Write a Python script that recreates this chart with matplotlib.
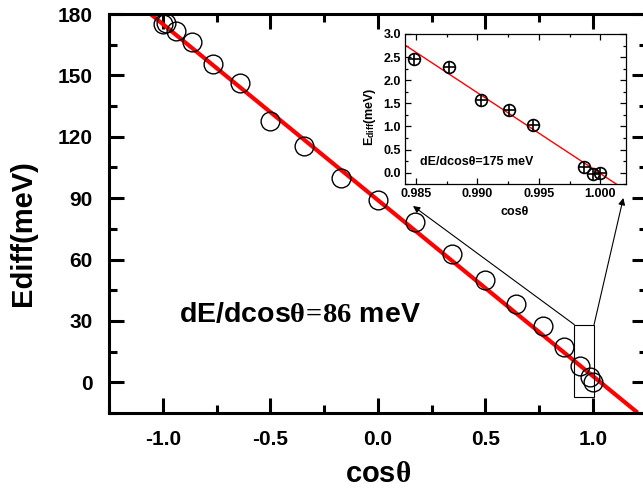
import numpy as np
import matplotlib
matplotlib.use("Agg")
import matplotlib.pyplot as plt
from matplotlib.patches import Rectangle
from matplotlib.ticker import MultipleLocator, FormatStrFormatter

plt.rcParams['font.family'] = ['Liberation Sans', 'DejaVu Sans']
plt.rcParams['font.weight'] = 'bold'
plt.rcParams['axes.unicode_minus'] = False
plt.rcParams['mathtext.fontset'] = 'custom'
plt.rcParams['mathtext.rm'] = 'Liberation Serif'
plt.rcParams['mathtext.bf'] = 'Liberation Sans:bold'
plt.rcParams['mathtext.it'] = 'Liberation Serif:italic'

# energy difference vs cos(theta), theta = 0..180 deg in 10 deg steps
cos_theta = [-1.0, -0.985, -0.94, -0.866, -0.766, -0.643, -0.5, -0.342, -0.174, 0.0,
             0.174, 0.342, 0.5, 0.643, 0.766, 0.866, 0.94, 0.985, 1.0]
e_diff = [175.0, 175.5, 171.5, 166.5, 155.5, 146.5, 127.5, 115.5, 100.0, 89.0,
          78.3, 62.6, 50.0, 38.5, 27.4, 17.2, 8.0, 2.4, 0.0]

# linear fit of the full range
fit_slope = 86.0
fit_offset = 89.0
fit_range = [-1.1, 1.2]

# small angles (0..10 deg)
cos_small = [0.98481, 0.98769, 0.99027, 0.99255, 0.99452, 0.99863, 0.99939, 1.0]
e_small = [2.47, 2.28, 1.57, 1.35, 1.04, 0.12, -0.03, 0.0]

fit_slope_small = 175.0
fit_offset_small = -0.02
fit_range_small = [0.984, 1.0013]

# zoom box drawn on the main axes (x0, x1, y0, y1)
zoom_box = (0.913, 1.005, -7.0, 28.2)


def draw_main(fig):
    ax = fig.add_axes([0.1699, 0.1623, 0.8359, 0.8093])
    ax.set_xlim(-1.25, 1.25)
    ax.set_ylim(-15, 180)

    xf = np.array(fit_range)
    ax.plot(xf, fit_offset - fit_slope * xf, color='red', lw=3, zorder=2)
    ax.plot(cos_theta, e_diff, 'o', ms=13.5, mfc='none', mec='black', mew=1.0, zorder=3)

    ax.xaxis.set_major_locator(MultipleLocator(0.5))
    ax.xaxis.set_minor_locator(MultipleLocator(0.25))
    ax.yaxis.set_major_locator(MultipleLocator(30))
    ax.yaxis.set_minor_locator(MultipleLocator(15))
    ax.xaxis.set_major_formatter(FormatStrFormatter('%.1f'))
    ax.set_yticks([0, 30, 60, 90, 120, 150, 180])
    ax.tick_params(which='both', direction='in', top=True, right=True, width=2.2,
                   labelsize=15, pad=12)
    ax.tick_params(which='major', length=11)
    ax.tick_params(which='minor', length=6)
    for lab in ax.get_xticklabels() + ax.get_yticklabels():
        lab.set_fontweight('bold')
    for sp in ax.spines.values():
        sp.set_linewidth(2.2)

    ax.text(-0.365, 33, r'dE/dcos$\mathrm{\theta\!=\!86}$ meV', fontsize=20.5,
            fontweight='bold', ha='center', va='center')

    x0, x1, y0, y1 = zoom_box
    ax.add_patch(Rectangle((x0, y0), x1 - x0, y1 - y0, fill=False, lw=0.8,
                           ec='black', zorder=4))
    arrow = dict(arrowstyle='-|>', lw=0.8, color='black', mutation_scale=10,
                 shrinkA=0, shrinkB=0)
    ax.annotate('', xy=(0.6423, 0.5822), xycoords='figure fraction',
                xytext=(x0, y1), textcoords='data', arrowprops=arrow)
    ax.annotate('', xy=(0.9694, 0.5984), xycoords='figure fraction',
                xytext=(x1, y1), textcoords='data', arrowprops=arrow)

    fig.text(23 / 643, 1 - 233 / 493, 'Ediff(meV)', fontsize=21, fontweight='bold',
             rotation=90, ha='center', va='center')
    fig.text(378 / 643, 1 - 474 / 493, r'cos$\mathrm{\theta}$', fontsize=21,
             fontweight='bold', ha='center', va='center')
    return ax


def draw_inset(fig):
    ax = fig.add_axes([405 / 643, 1 - 184.3 / 493, 220.7 / 643, 150.3 / 493])
    ax.set_xlim(0.98411, 1.00205)
    ax.set_ylim(-0.25, 3.0)

    xf = np.array(fit_range_small)
    ax.plot(xf, fit_offset_small + fit_slope_small * (1.0 - xf), color='red', lw=1.0)
    ax.plot(cos_small, e_small, 'o', ms=8.5, mfc='none', mec='black', mew=1.2)
    ax.plot(cos_small, e_small, '+', ms=8.5, color='black', mew=1.2)

    ax.xaxis.set_major_locator(MultipleLocator(0.005))
    ax.xaxis.set_minor_locator(MultipleLocator(0.0025))
    ax.yaxis.set_major_locator(MultipleLocator(0.5))
    ax.yaxis.set_minor_locator(MultipleLocator(0.25))
    ax.tick_params(which='both', direction='in', top=True, right=True, width=0.9,
                   labelsize=9, pad=3)
    ax.tick_params(which='major', length=4)
    ax.tick_params(which='minor', length=2.5)
    ax.xaxis.set_major_formatter(FormatStrFormatter('%.3f'))
    ax.yaxis.set_major_formatter(FormatStrFormatter('%.1f'))
    for lab in ax.get_xticklabels() + ax.get_yticklabels():
        lab.set_fontweight('bold')
    for sp in ax.spines.values():
        sp.set_linewidth(0.9)

    ax.text(0.98535, 0.24, 'dE/dcosθ=175 meV', fontsize=9, fontweight='bold',
            ha='left', va='center')
    fig.text(370 / 643, 1 - 117 / 493, r'E$_{\mathbf{diff}}$(meV)', fontsize=9,
             fontweight='bold', rotation=90, ha='center', va='center')
    fig.text(515 / 643, 1 - 212 / 493, 'cosθ', fontsize=9, fontweight='bold',
             ha='center', va='center')
    return ax


def main():
    fig = plt.figure(figsize=(6.43, 4.93), dpi=100)
    draw_main(fig)
    draw_inset(fig)
    fig.savefig('out.png', dpi=100)


if __name__ == '__main__':
    main()
